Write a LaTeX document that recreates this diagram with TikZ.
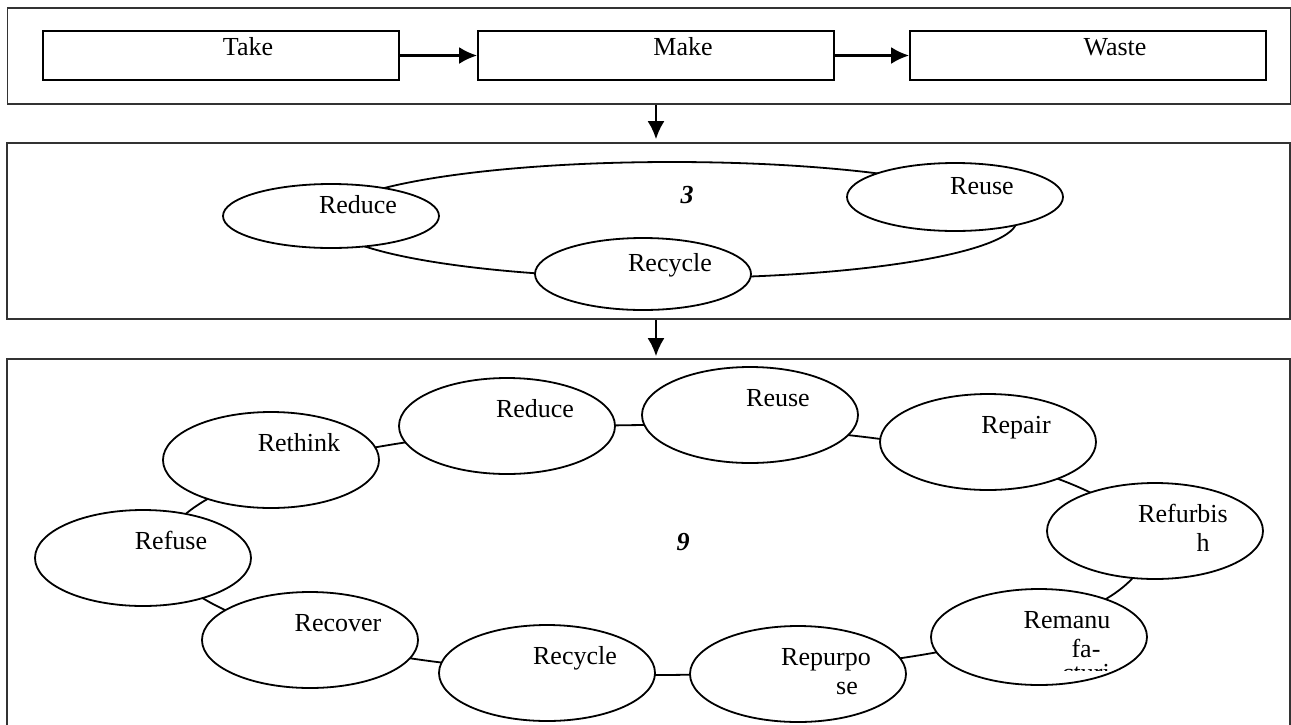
\documentclass[tikz,border=0pt]{standalone}
\usepackage{fontspec}
\setmainfont{Liberation Serif}
\usetikzlibrary{shapes.geometric,arrows.meta}

\begin{document}
\begin{tikzpicture}[x=0.5pt,y=-0.5pt,
    every node/.style={font=\fontsize{13}{14.5}\selectfont},
    panel/.style={draw=black!80, line width=0.8pt, minimum width=641.5pt, inner sep=0pt},
    stage/.style={draw, line width=0.9pt, minimum width=178pt, minimum height=24.5pt, inner sep=0pt},
    ring/.style={ellipse, draw, line width=0.9pt, inner sep=0pt},
    oval/.style={ellipse, draw, line width=0.9pt, fill=white, minimum width=108pt, minimum height=48pt, inner sep=0pt},
    fixed/.style={inner sep=0pt, text height=9pt, text depth=3pt},
    txt/.style={fixed, align=center, xshift=14pt, yshift=7.5pt},
    txttwo/.style={txt, yshift=-14.5pt}, % two lines: box sits on the last one
    txtthree/.style={fixed, xshift=13.5pt, yshift=4.5pt},
    txtstage/.style={fixed, xshift=13.5pt, yshift=3pt},
    num/.style={font=\fontsize{13}{14.5}\selectfont\bfseries\itshape},
    arr/.style={-{Latex[length=9pt,width=8.5pt]}, line width=1.2pt}]
    \useasboundingbox (0,0) rectangle (1291,724);

    % three frames
    \node[panel, minimum height=48pt] (linear) at (649,56) {};
    \node[panel, minimum height=88pt] (threer) at (648.5,231) {};
    \node[panel, minimum height=185.5pt] (niner) at (648.5,544.5) {};

    % take - make - waste
    \node[stage, label={[txtstage]center:Take}] (take) at (221,55.5) {};
    \node[stage, label={[txtstage]center:Make}] (make) at (656,55.5) {};
    \node[stage, label={[txtstage]center:Waste}] (waste) at (1088,55.5) {};
    \draw[arr] (take) -- (make);
    \draw[arr] (make) -- (waste);

    \draw[arr, shorten >=1.5pt] (linear.south -| make) -- (threer.north -| make);
    \draw[arr, shorten >=1pt] (threer.south -| make) -- (niner.north -| make);

    % 3R
    \node[ring, minimum width=345pt, minimum height=58pt] (ringthree) at (672,220) {};
    \node[num] (three) at (687,195) {3};
    \node[oval, minimum height=32pt, label={[txtthree]center:Reduce}] (reducethree) at (331,216) {};
    \node[oval, minimum height=34pt, label={[txtthree]center:Reuse}] (reusethree) at (955,197) {};
    \node[oval, minimum height=36pt, label={[txtthree]center:Recycle}] (recyclethree) at (643,274) {};

    % 9R
    \node[ring, minimum width=490pt, minimum height=125pt] (ringnine) at (655,550) {};
    \node[num] (nine) at (683,542) {9};
    \node[oval, label={[txt]center:Rethink}] (rethink) at (271,460) {};
    \node[oval, label={[txt]center:Reduce}] (reduce) at (507,426) {};
    \node[oval, label={[txt]center:Reuse}] (reuse) at (750,415) {};
    \node[oval, label={[txt]center:Repair}] (repair) at (988,442) {};
    \node[oval, label={[txttwo]center:Refurbis\\\hspace*{20pt}h}] (refurbish) at (1155,531) {};
    \node[oval, label={[txttwo]center:Remanu\\\hspace*{19pt}fa-}] (remanu) at (1039,637) {};
    \node[oval, label={[txttwo]center:Repurpo\\\hspace*{21pt}se}] (repurpose) at (798,674) {};
    \node[oval, label={[txt]center:Recycle}] (recycle) at (547,673) {};
    \node[oval, label={[txt]center:Recover}] (recover) at (310,640) {};
    \node[oval, label={[txt]center:Refuse}] (refuse) at (143,558) {};

    \begin{scope}
        \clip (1040,655) rectangle (1130,670); % word cut off by the text box
        \node[anchor=base] (remanutail) at (1086,681) {cturi};
    \end{scope}
\end{tikzpicture}
\end{document}
